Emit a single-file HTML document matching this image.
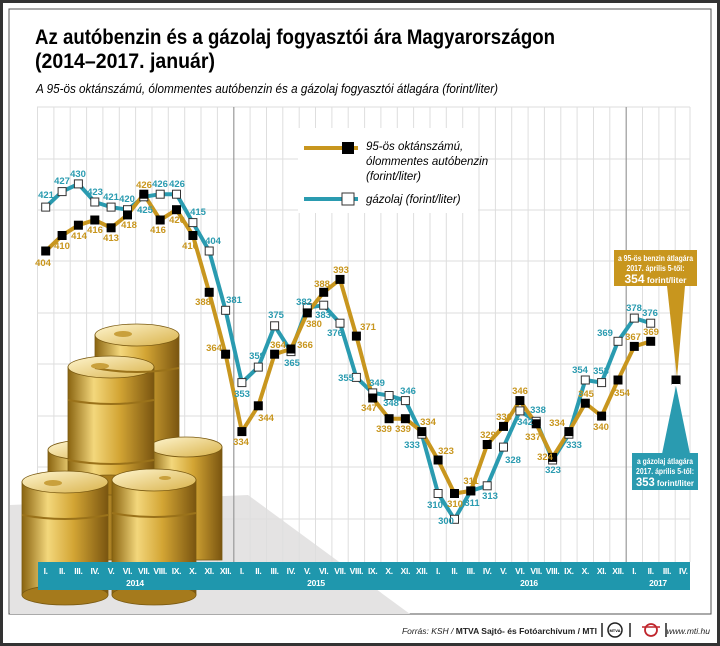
<!DOCTYPE html>
<html><head><meta charset="utf-8"><style>
html,body{margin:0;padding:0;background:#fff}
svg{display:block}
text{font-family:"Liberation Sans",sans-serif}
.g{fill:#c8961e;font-size:9.5px;font-weight:bold;text-anchor:middle}
.c{fill:#2a9bb0;font-size:9.5px;font-weight:bold;text-anchor:middle}
.m{fill:#fff;font-size:8.5px;font-weight:bold;text-anchor:middle;letter-spacing:-0.3px}
</style></head><body>
<svg width="720" height="646" viewBox="0 0 720 646" xmlns="http://www.w3.org/2000/svg">
<defs>
<linearGradient id="gold" x1="0" x2="1" y1="0" y2="0">
<stop offset="0" stop-color="#8a6410"/><stop offset="0.3" stop-color="#f3d77c"/><stop offset="0.6" stop-color="#d3a534"/><stop offset="1" stop-color="#7a5510"/>
</linearGradient>
<linearGradient id="top" x1="0" x2="1" y1="0" y2="1">
<stop offset="0" stop-color="#fff6d0"/><stop offset="1" stop-color="#d9b24a"/>
</linearGradient>
</defs>
<rect x="0" y="0" width="720" height="646" fill="#fff"/>
<rect x="1.5" y="1.5" width="717" height="643" fill="none" stroke="#333" stroke-width="3"/>
<rect x="9" y="9" width="702" height="605" fill="none" stroke="#555" stroke-width="1"/>
<polygon points="10,505 248,495 410,614 10,614" fill="#e4e3e3"/>
<text x="35" y="44" font-size="21" font-weight="bold" textLength="520" lengthAdjust="spacingAndGlyphs">Az autóbenzin és a gázolaj fogyasztói ára Magyarországon</text>
<text x="35" y="68" font-size="21" font-weight="bold" textLength="180" lengthAdjust="spacingAndGlyphs">(2014–2017. január)</text>
<text x="36" y="93" font-size="12.5" font-style="italic" textLength="462" lengthAdjust="spacingAndGlyphs">A 95-ös oktánszámú, ólommentes autóbenzin és a gázolaj fogyasztói átlagára (forint/liter)</text>
<g stroke="#dedede" stroke-width="1">
<line x1="37" y1="107" x2="690" y2="107"/><line x1="37" y1="159" x2="690" y2="159"/><line x1="37" y1="210" x2="690" y2="210"/><line x1="37" y1="261" x2="690" y2="261"/><line x1="37" y1="313" x2="690" y2="313"/><line x1="37" y1="364" x2="690" y2="364"/><line x1="37" y1="416" x2="690" y2="416"/><line x1="37" y1="467" x2="690" y2="467"/><line x1="37" y1="519" x2="690" y2="519"/>
<line x1="37.5" y1="107" x2="37.5" y2="562"/><line x1="53.9" y1="107" x2="53.9" y2="562"/><line x1="70.2" y1="107" x2="70.2" y2="562"/><line x1="86.6" y1="107" x2="86.6" y2="562"/><line x1="102.9" y1="107" x2="102.9" y2="562"/><line x1="119.3" y1="107" x2="119.3" y2="562"/><line x1="135.6" y1="107" x2="135.6" y2="562"/><line x1="152" y1="107" x2="152" y2="562"/><line x1="168.3" y1="107" x2="168.3" y2="562"/><line x1="184.7" y1="107" x2="184.7" y2="562"/><line x1="201" y1="107" x2="201" y2="562"/><line x1="217.4" y1="107" x2="217.4" y2="562"/><line x1="250.1" y1="107" x2="250.1" y2="562"/><line x1="266.5" y1="107" x2="266.5" y2="562"/><line x1="282.8" y1="107" x2="282.8" y2="562"/><line x1="299.2" y1="107" x2="299.2" y2="562"/><line x1="315.5" y1="107" x2="315.5" y2="562"/><line x1="331.9" y1="107" x2="331.9" y2="562"/><line x1="348.2" y1="107" x2="348.2" y2="562"/><line x1="364.6" y1="107" x2="364.6" y2="562"/><line x1="380.9" y1="107" x2="380.9" y2="562"/><line x1="397.3" y1="107" x2="397.3" y2="562"/><line x1="413.6" y1="107" x2="413.6" y2="562"/><line x1="430" y1="107" x2="430" y2="562"/><line x1="446.3" y1="107" x2="446.3" y2="562"/><line x1="462.7" y1="107" x2="462.7" y2="562"/><line x1="479" y1="107" x2="479" y2="562"/><line x1="495.4" y1="107" x2="495.4" y2="562"/><line x1="511.7" y1="107" x2="511.7" y2="562"/><line x1="528.1" y1="107" x2="528.1" y2="562"/><line x1="544.4" y1="107" x2="544.4" y2="562"/><line x1="560.8" y1="107" x2="560.8" y2="562"/><line x1="577.1" y1="107" x2="577.1" y2="562"/><line x1="593.5" y1="107" x2="593.5" y2="562"/><line x1="609.8" y1="107" x2="609.8" y2="562"/><line x1="642.5" y1="107" x2="642.5" y2="562"/><line x1="658.9" y1="107" x2="658.9" y2="562"/><line x1="675.2" y1="107" x2="675.2" y2="562"/><line x1="690" y1="107" x2="690" y2="562"/>
</g>
<g stroke="#999" stroke-width="1.2"><line x1="233.8" y1="107" x2="233.8" y2="562"/><line x1="626.2" y1="107" x2="626.2" y2="562"/></g>
<g stroke="#7a5a12" stroke-width="0.8">
<rect x="95" y="335" width="84" height="150" fill="url(#gold)"/><ellipse cx="137" cy="335" rx="42" ry="11" fill="url(#top)"/>
<rect x="48" y="450" width="80" height="110" fill="url(#gold)"/><ellipse cx="88" cy="450" rx="40" ry="10" fill="url(#top)"/>
<rect x="150" y="447" width="72" height="113" fill="url(#gold)"/><ellipse cx="186" cy="447" rx="36" ry="10" fill="url(#top)"/>
<rect x="68" y="367" width="86" height="118" fill="url(#gold)"/><ellipse cx="111" cy="485" rx="43" ry="10" fill="#a57a1c"/><ellipse cx="111" cy="367" rx="43" ry="11" fill="url(#top)"/>
<rect x="22" y="482" width="86" height="113" fill="url(#gold)"/><ellipse cx="65" cy="595" rx="43" ry="10" fill="#a57a1c"/><ellipse cx="65" cy="482" rx="43" ry="11" fill="url(#top)"/>
<rect x="112" y="480" width="84" height="115" fill="url(#gold)"/><ellipse cx="154" cy="595" rx="42" ry="10" fill="#a57a1c"/><ellipse cx="154" cy="480" rx="42" ry="11" fill="url(#top)"/>
</g>
<g fill="none" stroke="#9a721a" stroke-width="2">
<path d="M68,400 q43,8 86,0 M68,460 q43,8 86,0 M22,515 q43,8 86,0 M112,513 q42,8 84,0 M95,368 q42,8 84,0"/>
</g>
<g fill="#c9a03c"><ellipse cx="123" cy="334" rx="9" ry="3"/><ellipse cx="100" cy="366" rx="9" ry="3"/><ellipse cx="53" cy="483" rx="9" ry="3"/><ellipse cx="165" cy="478" rx="6" ry="2"/></g>
<rect x="298" y="128" width="180" height="85" fill="#fff"/>
<line x1="304" y1="148" x2="358" y2="148" stroke="#c8961e" stroke-width="4"/><rect x="342" y="142" width="12" height="12" fill="#000"/>
<line x1="304" y1="199" x2="358" y2="199" stroke="#2a9bb0" stroke-width="4"/><rect x="342" y="193" width="12" height="12" fill="#fff" stroke="#333"/>
<g font-size="11.5" font-style="italic"><text x="366" y="150">95-ös oktánszámú,</text><text x="366" y="165">ólommentes autóbenzin</text><text x="366" y="180">(forint/liter)</text><text x="366" y="203">gázolaj (forint/liter)</text></g>
<polyline fill="none" stroke="#2a9bb0" stroke-width="4" stroke-linejoin="round" points="45.7,207.1 62.1,191.6 78.4,183.9 94.8,202 111.1,207.1 127.5,209.7 143.8,196.8 160.2,194.2 176.5,194.2 192.9,222.6 209.2,251 225.6,310.3 241.9,382.6 258.3,367.1 274.6,325.8 291,351.6 307.3,307.7 323.7,305.2 340,323.2 356.4,377.4 372.7,392.9 389.1,395.5 405.4,400.6 421.8,434.2 438.1,493.5 454.5,519.3 470.8,490.9 487.2,485.8 503.5,447.1 519.9,410.9 536.2,421.3 552.6,460 568.9,434.2 585.3,380 601.6,382.6 618,341.3 634.3,318.1 650.7,323.2"/>
<polyline fill="none" stroke="#c8961e" stroke-width="4" stroke-linejoin="round" points="45.7,251 62.1,235.5 78.4,225.2 94.8,220 111.1,227.8 127.5,214.9 143.8,194.2 160.2,220 176.5,209.7 192.9,235.5 209.2,292.3 225.6,354.2 241.9,431.6 258.3,405.8 274.6,354.2 291,349 307.3,312.9 323.7,292.3 340,279.4 356.4,336.1 372.7,398 389.1,418.7 405.4,418.7 421.8,431.6 438.1,460 454.5,493.5 470.8,490.9 487.2,444.5 503.5,426.4 519.9,400.6 536.2,423.8 552.6,457.4 568.9,431.6 585.3,403.2 601.6,416.1 618,380 634.3,346.4 650.7,341.3"/>
<g fill="#fff" stroke="#333" stroke-width="1" transform="translate(-4,-4)">
<rect x="45.7" y="207.1" width="8" height="8"/><rect x="62.1" y="191.6" width="8" height="8"/><rect x="78.4" y="183.9" width="8" height="8"/><rect x="94.8" y="202" width="8" height="8"/><rect x="111.1" y="207.1" width="8" height="8"/><rect x="127.5" y="209.7" width="8" height="8"/><rect x="143.8" y="196.8" width="8" height="8"/><rect x="160.2" y="194.2" width="8" height="8"/><rect x="176.5" y="194.2" width="8" height="8"/><rect x="192.9" y="222.6" width="8" height="8"/><rect x="209.2" y="251" width="8" height="8"/><rect x="225.6" y="310.3" width="8" height="8"/><rect x="241.9" y="382.6" width="8" height="8"/><rect x="258.3" y="367.1" width="8" height="8"/><rect x="274.6" y="325.8" width="8" height="8"/><rect x="291" y="351.6" width="8" height="8"/><rect x="307.3" y="307.7" width="8" height="8"/><rect x="323.7" y="305.2" width="8" height="8"/><rect x="340" y="323.2" width="8" height="8"/><rect x="356.4" y="377.4" width="8" height="8"/><rect x="372.7" y="392.9" width="8" height="8"/><rect x="389.1" y="395.5" width="8" height="8"/><rect x="405.4" y="400.6" width="8" height="8"/><rect x="421.8" y="434.2" width="8" height="8"/><rect x="438.1" y="493.5" width="8" height="8"/><rect x="454.5" y="519.3" width="8" height="8"/><rect x="470.8" y="490.9" width="8" height="8"/><rect x="487.2" y="485.8" width="8" height="8"/><rect x="503.5" y="447.1" width="8" height="8"/><rect x="519.9" y="410.9" width="8" height="8"/><rect x="536.2" y="421.3" width="8" height="8"/><rect x="552.6" y="460" width="8" height="8"/><rect x="568.9" y="434.2" width="8" height="8"/><rect x="585.3" y="380" width="8" height="8"/><rect x="601.6" y="382.6" width="8" height="8"/><rect x="618" y="341.3" width="8" height="8"/><rect x="634.3" y="318.1" width="8" height="8"/><rect x="650.7" y="323.2" width="8" height="8"/>
</g>
<g fill="#000" transform="translate(-4.5,-4.5)">
<rect x="45.7" y="251" width="9" height="9"/><rect x="62.1" y="235.5" width="9" height="9"/><rect x="78.4" y="225.2" width="9" height="9"/><rect x="94.8" y="220" width="9" height="9"/><rect x="111.1" y="227.8" width="9" height="9"/><rect x="127.5" y="214.9" width="9" height="9"/><rect x="143.8" y="194.2" width="9" height="9"/><rect x="160.2" y="220" width="9" height="9"/><rect x="176.5" y="209.7" width="9" height="9"/><rect x="192.9" y="235.5" width="9" height="9"/><rect x="209.2" y="292.3" width="9" height="9"/><rect x="225.6" y="354.2" width="9" height="9"/><rect x="241.9" y="431.6" width="9" height="9"/><rect x="258.3" y="405.8" width="9" height="9"/><rect x="274.6" y="354.2" width="9" height="9"/><rect x="291" y="349" width="9" height="9"/><rect x="307.3" y="312.9" width="9" height="9"/><rect x="323.7" y="292.3" width="9" height="9"/><rect x="340" y="279.4" width="9" height="9"/><rect x="356.4" y="336.1" width="9" height="9"/><rect x="372.7" y="398" width="9" height="9"/><rect x="389.1" y="418.7" width="9" height="9"/><rect x="405.4" y="418.7" width="9" height="9"/><rect x="421.8" y="431.6" width="9" height="9"/><rect x="438.1" y="460" width="9" height="9"/><rect x="454.5" y="493.5" width="9" height="9"/><rect x="470.8" y="490.9" width="9" height="9"/><rect x="487.2" y="444.5" width="9" height="9"/><rect x="503.5" y="426.4" width="9" height="9"/><rect x="519.9" y="400.6" width="9" height="9"/><rect x="536.2" y="423.8" width="9" height="9"/><rect x="552.6" y="457.4" width="9" height="9"/><rect x="568.9" y="431.6" width="9" height="9"/><rect x="585.3" y="403.2" width="9" height="9"/><rect x="601.6" y="416.1" width="9" height="9"/><rect x="618" y="380" width="9" height="9"/><rect x="634.3" y="346.4" width="9" height="9"/><rect x="650.7" y="341.3" width="9" height="9"/>
</g>
<g class="g">
<text x="43" y="266">404</text><text x="62" y="249">410</text><text x="79" y="239">414</text><text x="95" y="233">416</text><text x="111" y="241">413</text><text x="129" y="228">418</text><text x="144" y="188">426</text><text x="158" y="233">416</text><text x="177" y="223">420</text><text x="190" y="249">410</text>
<text x="203" y="305">388</text><text x="214" y="351">364</text><text x="241" y="445">334</text><text x="266" y="421">344</text><text x="278" y="348">364</text><text x="305" y="348">366</text><text x="314" y="327">380</text><text x="322" y="287">388</text><text x="341" y="273">393</text><text x="368" y="330">371</text><text x="369" y="411">347</text><text x="384" y="432">339</text><text x="403" y="432">339</text><text x="428" y="425">334</text>
<text x="446" y="454">323</text><text x="455" y="507">310</text><text x="471" y="484">311</text><text x="488" y="438">329</text><text x="504" y="420">336</text><text x="520" y="394">346</text><text x="533" y="440">337</text><text x="545" y="460">324</text><text x="557" y="426">334</text><text x="586" y="397">345</text><text x="601" y="430">340</text><text x="622" y="396">354</text><text x="633" y="340">367</text><text x="651" y="335">369</text>
</g>
<g class="c">
<text x="46" y="198">421</text><text x="62" y="184">427</text><text x="78" y="177">430</text><text x="95" y="195">423</text><text x="111" y="200">421</text><text x="127" y="202">420</text><text x="145" y="213">425</text><text x="160" y="187">426</text><text x="177" y="187">426</text><text x="198" y="215">415</text><text x="213" y="244">404</text>
<text x="234" y="303">381</text><text x="242" y="397">353</text><text x="257" y="359">359</text><text x="276" y="318">375</text><text x="292" y="366">365</text><text x="304" y="305">382</text><text x="323" y="318">383</text><text x="335" y="336">376</text><text x="346" y="381">355</text><text x="377" y="386">349</text><text x="391" y="406">348</text><text x="408" y="394">346</text><text x="412" y="448">333</text>
<text x="435" y="508">310</text><text x="446" y="524">300</text><text x="472" y="506">311</text><text x="490" y="499">313</text><text x="513" y="463">328</text><text x="525" y="425">342</text><text x="538" y="413">338</text><text x="553" y="473">323</text><text x="574" y="448">333</text><text x="580" y="373">354</text><text x="601" y="374">353</text><text x="605" y="336">369</text><text x="634" y="311">378</text><text x="650" y="316">376</text>
</g>
<polygon points="667,286 685,286 677,378" fill="#c8961e"/>
<rect x="614" y="250" width="83" height="36" fill="#c8961e"/>
<g fill="#fff" font-size="8.5" font-weight="bold" text-anchor="middle"><text x="655.5" y="261" textLength="75" lengthAdjust="spacingAndGlyphs">a 95-ös benzin átlagára</text><text x="655.5" y="271" textLength="58" lengthAdjust="spacingAndGlyphs">2017. április 5-től:</text><text x="655.5" y="283" textLength="62" lengthAdjust="spacingAndGlyphs"><tspan font-size="12">354</tspan> forint/liter</text></g>
<polygon points="676,386 662,454 690,454" fill="#2a9bb0"/>
<rect x="632" y="453" width="66" height="37" fill="#2a9bb0"/>
<g fill="#fff" font-size="8.5" font-weight="bold" text-anchor="middle"><text x="665" y="464" textLength="56" lengthAdjust="spacingAndGlyphs">a gázolaj átlagára</text><text x="665" y="474" textLength="58" lengthAdjust="spacingAndGlyphs">2017. április 5-től:</text><text x="665" y="486" textLength="58" lengthAdjust="spacingAndGlyphs"><tspan font-size="12">353</tspan> forint/liter</text></g>
<rect x="671.5" y="375.5" width="9" height="9" fill="#000"/><rect x="672" y="384" width="8" height="2" fill="#fff"/>
<rect x="38" y="562" width="652" height="28" fill="#1f97ad"/>
<g class="m">
<text x="45.7" y="574">I.</text><text x="62.1" y="574">II.</text><text x="78.4" y="574">III.</text><text x="94.8" y="574">IV.</text><text x="111.1" y="574">V.</text><text x="127.5" y="574">VI.</text><text x="143.8" y="574">VII.</text><text x="160.2" y="574">VIII.</text><text x="176.5" y="574">IX.</text><text x="192.9" y="574">X.</text><text x="209.2" y="574">XI.</text><text x="225.6" y="574">XII.</text>
<text x="241.9" y="574">I.</text><text x="258.3" y="574">II.</text><text x="274.6" y="574">III.</text><text x="291" y="574">IV.</text><text x="307.3" y="574">V.</text><text x="323.7" y="574">VI.</text><text x="340" y="574">VII.</text><text x="356.4" y="574">VIII.</text><text x="372.7" y="574">IX.</text><text x="389.1" y="574">X.</text><text x="405.4" y="574">XI.</text><text x="421.8" y="574">XII.</text>
<text x="438.1" y="574">I.</text><text x="454.5" y="574">II.</text><text x="470.8" y="574">III.</text><text x="487.2" y="574">IV.</text><text x="503.5" y="574">V.</text><text x="519.9" y="574">VI.</text><text x="536.2" y="574">VII.</text><text x="552.6" y="574">VIII.</text><text x="568.9" y="574">IX.</text><text x="585.3" y="574">X.</text><text x="601.6" y="574">XI.</text><text x="618" y="574">XII.</text>
<text x="634.3" y="574">I.</text><text x="650.7" y="574">II.</text><text x="667" y="574">III.</text><text x="683.4" y="574">IV.</text>
<text x="135" y="586">2014</text><text x="316" y="586">2015</text><text x="529" y="586">2016</text><text x="658" y="586">2017</text>
</g>
<text x="597" y="634" font-size="8.5" font-style="italic" text-anchor="end" fill="#222">Forrás: KSH / <tspan font-weight="bold" font-style="normal">MTVA Sajtó- és Fotóarchívum / MTI</tspan></text>
<line x1="602" y1="623" x2="602" y2="637" stroke="#222" stroke-width="1.5"/>
<circle cx="615" cy="630" r="7" fill="none" stroke="#222" stroke-width="1.5"/><text x="615" y="632" font-size="4" text-anchor="middle" font-weight="bold">MTVA</text>
<line x1="630" y1="623" x2="630" y2="637" stroke="#222" stroke-width="1.5"/>
<circle cx="651" cy="630" r="6" fill="none" stroke="#c0262d" stroke-width="1.8"/><line x1="642" y1="627" x2="660" y2="627" stroke="#c0262d" stroke-width="1.5"/>
<line x1="666" y1="623" x2="666" y2="637" stroke="#222" stroke-width="1.5"/>
<text x="710" y="634" font-size="8.5" font-style="italic" text-anchor="end" fill="#222">www.mti.hu</text>
</svg>
</body></html>
